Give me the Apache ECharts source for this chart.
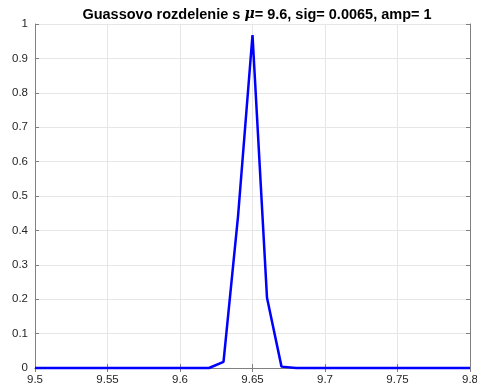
<!DOCTYPE html>
<html><head><meta charset="utf-8">
<script src="https://cdn.jsdelivr.net/npm/echarts@6/dist/echarts.min.js"></script>
<style>html,body{margin:0;padding:0;background:#fff}#c{width:477px;height:389px}</style>
</head><body><div id="c"></div>
<script>
const xValues = [9.50,9.51,9.52,9.53,9.54,9.55,9.56,9.57,9.58,9.59,9.60,9.61,9.62,9.63,9.64,9.65,9.66,9.67,9.68,9.69,9.70,9.71,9.72,9.73,9.74,9.75,9.76,9.77,9.78,9.79,9.80];
const yValues = [0,0,0,0,0,0,0,0,0,0,0,0,0,0.018,0.44,0.968,0.204,0.004,0,0,0,0,0,0,0,0,0,0,0,0,0];
const xTickLabels = ['9.5','9.55','9.6','9.65','9.7','9.75','9.8'];
const yTickLabels = ['0','0.1','0.2','0.3','0.4','0.5','0.6','0.7','0.8','0.9','1'];
const titleParts = ['Guassovo rozdelenie s ', 'μ', '= 9.6, sig= 0.0065, amp= 1'];

const axisColor = '#808080';
const font = 'Liberation Sans, Arial, sans-serif';
const chart = echarts.init(document.getElementById('c'));
const xFmt = v => { const i = Math.round((v - 9.5) / 0.05); return xTickLabels[i] ?? ''; };
const yFmt = v => { const i = Math.round(v / 0.1); return yTickLabels[i] ?? ''; };
const common = {
  axisLine: {show: true, lineStyle: {color: axisColor, width: 1}},
  axisTick: {show: true, inside: true, length: 4, lineStyle: {color: axisColor}},
};
chart.setOption({
  animation: false,
  title: {
    text: '{n|' + titleParts[0] + '}{m|' + titleParts[1] + '}{n|' + titleParts[2] + '}',
    left: 252, textAlign: 'center', top: 2,
    textStyle: {rich: {
      n: {fontFamily: font, fontWeight: 'bold', fontSize: 14.5, color: '#000'},
      m: {fontFamily: 'DejaVu Serif, serif', fontStyle: 'italic', fontSize: 14, color: '#000'}
    }}
  },
  grid: {left: 35, right: 7, top: 24, bottom: 21, containLabel: false, outerBoundsMode: 'none'},
  xAxis: [
    Object.assign({type: 'value', min: 9.5, max: 9.8, interval: 0.05, position: 'bottom',
      axisLabel: {formatter: xFmt, color: '#262626', fontFamily: font, fontSize: 11.5, margin: 6, showMaxLabel: true, hideOverlap: false},
      splitLine: {show: true, lineStyle: {color: '#e6e6e6', width: 1}}}, common),
    Object.assign({type: 'value', min: 9.5, max: 9.8, interval: 0.05, position: 'top',
      axisLabel: {show: false}, splitLine: {show: false}}, common)
  ],
  yAxis: [
    Object.assign({type: 'value', min: 0, max: 1, interval: 0.1, position: 'left',
      axisLabel: {formatter: yFmt, color: '#262626', fontFamily: font, fontSize: 11.5, margin: 7},
      splitLine: {show: true, lineStyle: {color: '#e6e6e6', width: 1}}}, common),
    Object.assign({type: 'value', min: 0, max: 1, interval: 0.1, position: 'right',
      axisLabel: {show: false}, splitLine: {show: false}}, common)
  ],
  series: [{
    type: 'line',
    data: xValues.map((x, i) => [x, yValues[i]]),
    showSymbol: false, symbol: 'none',
    lineStyle: {color: '#0000ff', width: 2.5},
    clip: false, z: 5
  }]
});
</script></body></html>
